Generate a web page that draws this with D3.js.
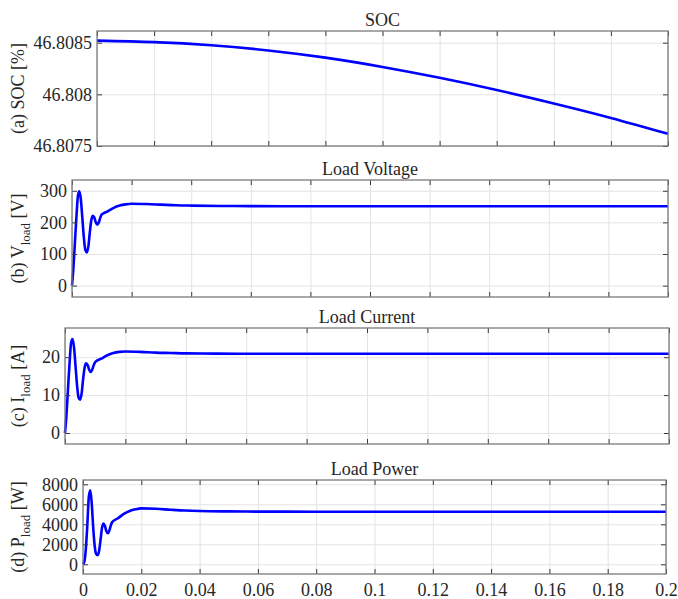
<!DOCTYPE html>
<html>
<head>
<meta charset="utf-8">
<script src="https://cdn.jsdelivr.net/npm/d3@7"></script>
<style>
  body { margin: 0; background: #fff; }
  text { font-family: "Liberation Serif", "Times New Roman", serif; fill: #262626; }
</style>
</head>
<body>
<svg width="678" height="599"></svg>
<script>
// x axis (time, s)
let xTicks = [0, 0.02, 0.04, 0.06, 0.08, 0.1, 0.12, 0.14, 0.16, 0.18, 0.2];
let xTickLabels = ["0", "0.02", "0.04", "0.06", "0.08", "0.1", "0.12", "0.14", "0.16", "0.18", "0.2"];

// SOC, read every 0.02 s
let socTime = [0, 0.02, 0.04, 0.06, 0.08, 0.1, 0.12, 0.14, 0.16, 0.18, 0.2];
let socValues = [46.80852, 46.808505, 46.808475, 46.808425, 46.808355, 46.808265,
                 46.80816, 46.808042, 46.807912, 46.807772, 46.807618];

// load waveforms, denser in the start-up transient
let time = [0, 0.0005, 0.001, 0.0015, 0.002, 0.0025, 0.003, 0.0035, 0.004, 0.0045,
            0.005, 0.0055, 0.006, 0.0065, 0.007, 0.0075, 0.008, 0.0085, 0.009, 0.0095,
            0.01, 0.012, 0.014, 0.016, 0.018, 0.02, 0.025, 0.03, 0.035, 0.04,
            0.05, 0.06, 0.08, 0.1, 0.12, 0.14, 0.16, 0.18, 0.2];
let voltage = [0, 60, 140, 220, 285, 298, 270, 210, 150, 112,
               105, 125, 170, 208, 221, 215, 200, 193, 200, 215,
               225, 235, 246, 253, 257, 259, 258, 256, 254, 253,
               252, 251.5, 251, 251, 251, 251, 251, 251, 251];
let current = [0, 5, 11.7, 18.3, 23.7, 24.8, 22.5, 17.5, 12.5, 9.3,
               8.8, 10.4, 14.2, 17.3, 18.4, 17.9, 16.7, 16.1, 16.7, 17.9,
               18.7, 19.6, 20.5, 21.1, 21.4, 21.5, 21.4, 21.2, 21.1, 21.0,
               20.95, 20.9, 20.9, 20.9, 20.9, 20.9, 20.9, 20.9, 20.9];
let power = [0, 300, 1630, 4030, 6760, 7400, 6070, 3670, 1870, 1045,
             920, 1300, 2400, 3600, 4070, 3850, 3330, 3100, 3330, 3850,
             4220, 4600, 5040, 5330, 5500, 5590, 5550, 5460, 5380, 5330,
             5290, 5270, 5260, 5260, 5260, 5260, 5260, 5260, 5260];

let socTicks = [46.8075, 46.808, 46.8085];
let voltageTicks = [0, 100, 200, 300];
let currentTicks = [0, 10, 20];
let powerTicks = [0, 2000, 4000, 6000, 8000];

let svg = d3.select("svg");

let panels = [
  {title: "SOC", label: ["(a) SOC [%]"], left: 97, right: 668, top: 31, bottom: 146,
   yDomain: [46.8075, 46.808613], yTicks: socTicks, t: socTime, v: socValues, xLabels: false,
   curve: d3.curveNatural},
  {title: "Load Voltage", label: ["(b) V", "load", " [V]"], left: 72, right: 668, top: 180, bottom: 297,
   yDomain: [-36, 334], yTicks: voltageTicks, t: time, v: voltage, xLabels: false,
   curve: d3.curveMonotoneX},
  {title: "Load Current", label: ["(c) I", "load", " [A]"], left: 65, right: 669, top: 328, bottom: 444,
   yDomain: [-2.9, 27.7], yTicks: currentTicks, t: time, v: current, xLabels: false,
   curve: d3.curveMonotoneX},
  {title: "Load Power", label: ["(d) P", "load", " [W]"], left: 83, right: 666, top: 480, bottom: 574,
   yDomain: [-970, 8430], yTicks: powerTicks, t: time, v: power, xLabels: true,
   curve: d3.curveMonotoneX}
];

panels.forEach(function(p) {
  let w = p.right - p.left, h = p.bottom - p.top;
  let x = d3.scaleLinear().domain([0, 0.2]).range([p.left, p.right]);
  let y = d3.scaleLinear().domain(p.yDomain).range([p.bottom, p.top]);

  // grid
  svg.append("g")
      .attr("transform", "translate(0," + p.bottom + ")")
      .call(d3.axisBottom(x).tickValues(xTicks).tickSize(-h).tickFormat(""))
      .call(g => g.select(".domain").remove())
      .call(g => g.selectAll("line").attr("stroke", "#e3e3e3"));
  svg.append("g")
      .attr("transform", "translate(" + p.left + ",0)")
      .call(d3.axisLeft(y).tickValues(p.yTicks).tickSize(-w).tickFormat(""))
      .call(g => g.select(".domain").remove())
      .call(g => g.selectAll("line").attr("stroke", "#e3e3e3"));

  // data line
  let line = d3.line()
      .x(function(d, i) { return x(p.t[i]); })
      .y(function(d) { return y(d); })
      .curve(p.curve);
  svg.append("path")
      .datum(p.v)
      .attr("fill", "none")
      .attr("stroke", "#0000ff")
      .attr("stroke-width", 2.6)
      .attr("d", line);

  // inward ticks on all four sides
  let tickStyle = function(g) {
    g.select(".domain").remove();
    g.selectAll("line").attr("stroke", "#3a3a3a");
    g.selectAll("text").style("font-size", "18px").attr("fill", "#262626");
  };
  svg.append("g")
      .attr("transform", "translate(" + p.left + ",0)")
      .call(d3.axisLeft(y).tickValues(p.yTicks).tickSizeInner(-5).tickSizeOuter(0).tickPadding(5)
            .tickFormat(function(d) { return String(d); }))
      .call(tickStyle);
  svg.append("g")
      .attr("transform", "translate(" + p.right + ",0)")
      .call(d3.axisRight(y).tickValues(p.yTicks).tickSizeInner(-5).tickSizeOuter(0).tickFormat(""))
      .call(tickStyle);
  svg.append("g")
      .attr("transform", "translate(0," + p.top + ")")
      .call(d3.axisTop(x).tickValues(xTicks).tickSizeInner(-5).tickSizeOuter(0).tickFormat(""))
      .call(tickStyle);
  svg.append("g")
      .attr("transform", "translate(0," + p.bottom + ")")
      .call(d3.axisBottom(x).tickValues(xTicks).tickSizeInner(-5).tickSizeOuter(0).tickPadding(9)
            .tickFormat(function(d, i) { return p.xLabels ? xTickLabels[i] : ""; }))
      .call(tickStyle);

  // box
  svg.append("rect")
      .attr("x", p.left).attr("y", p.top)
      .attr("width", w).attr("height", h)
      .attr("fill", "none")
      .attr("stroke", "#7a7a7a")
      .attr("stroke-width", 1.3);

  // title
  svg.append("text")
      .attr("x", (p.left + p.right) / 2)
      .attr("y", p.top - 5)
      .attr("text-anchor", "middle")
      .style("font-size", "18px")
      .text(p.title);

  // y label
  let lab = svg.append("text")
      .attr("transform", "translate(24," + (p.top + p.bottom) / 2 + ") rotate(-90)")
      .attr("text-anchor", "middle")
      .style("font-size", "18px");
  lab.append("tspan").text(p.label[0]);
  if (p.label.length > 1) {
    lab.append("tspan").attr("dy", 6).style("font-size", "13px").text(p.label[1]);
    lab.append("tspan").attr("dy", -6).text(p.label[2]);
  }
});
</script>
</body>
</html>
